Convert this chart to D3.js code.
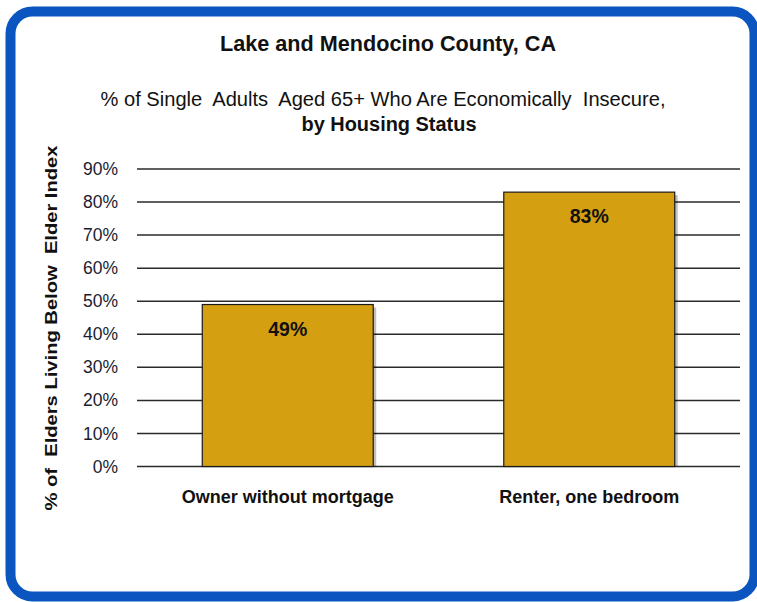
<!DOCTYPE html>
<html>
<head>
  <meta charset="utf-8">
  <title>Lake and Mendocino County, CA</title>
  <script src="https://d3js.org/d3.v7.min.js"></script>
  <style>
    body { margin: 0; background: #fff; }
    svg text { font-family: "Liberation Sans Narrow", "Arial Narrow", "Liberation Sans", Arial, sans-serif; }
  </style>
</head>
<body>
<script>
// data
var categories = ["Owner without mortgage", "Renter, one bedroom"];
var values = [49, 83];
var valueLabels = ["49%", "83%"];
var yTicks = [0, 10, 20, 30, 40, 50, 60, 70, 80, 90];

var width = 757, height = 602;
// plot area (note: "top" is reserved on window, so use other names)
var plotLeft = 137, plotRight = 740, plotTop = 169, plotBottom = 466.5;
var fontStack = "\"Liberation Sans Narrow\", \"Arial Narrow\", \"Liberation Sans\", Arial, sans-serif";

var svg = d3.select("body").append("svg").attr("width", width).attr("height", height);

// blue rounded frame
svg.append("rect")
  .attr("x", 10.5).attr("y", 11.5)
  .attr("width", 744).attr("height", 585)
  .attr("rx", 22).attr("ry", 22)
  .attr("fill", "#fff")
  .attr("stroke", "#0a55c0")
  .attr("stroke-width", 10);

// titles
svg.append("text").attr("x", 388).attr("y", 51)
  .attr("text-anchor", "middle").attr("font-size", 21.5).attr("font-weight", "bold")
  .attr("textLength", 336).attr("lengthAdjust", "spacingAndGlyphs")
  .attr("fill", "#111").text("Lake and Mendocino County, CA");
svg.append("text").attr("x", 383).attr("y", 106)
  .attr("text-anchor", "middle").attr("font-size", 19.5).attr("fill", "#111")
  .attr("textLength", 565).attr("lengthAdjust", "spacingAndGlyphs")
  .attr("xml:space", "preserve")
  .text("% of Single  Adults  Aged 65+ Who Are Economically  Insecure,");
svg.append("text").attr("x", 389).attr("y", 131)
  .attr("text-anchor", "middle").attr("font-size", 19.5).attr("font-weight", "bold")
  .attr("textLength", 175).attr("lengthAdjust", "spacingAndGlyphs")
  .attr("fill", "#111").text("by Housing Status");

// scales
var x = d3.scaleBand()
  .domain(categories)
  .range([plotLeft, plotRight])
  .paddingInner(0.433)
  .paddingOuter(0.2165);

var y = d3.scaleLinear()
  .domain([0, 90])
  .range([plotBottom, plotTop]);

// gridlines
svg.append("g")
  .selectAll("line")
  .data(yTicks)
  .enter()
  .append("line")
  .attr("x1", plotLeft).attr("x2", plotRight)
  .attr("y1", function(d) { return y(d); })
  .attr("y2", function(d) { return y(d); })
  .attr("stroke", "#2a2a2a")
  .attr("stroke-width", 1.5);

// y axis tick labels
var yAxis = svg.append("g")
  .attr("transform", "translate(" + (plotLeft - 16) + ",0)")
  .call(d3.axisLeft(y).tickValues(yTicks).tickSize(0).tickFormat(function(d) { return d + "%"; }));
yAxis.select(".domain").remove();
yAxis.selectAll("text")
  .attr("font-size", 17.5)
  .attr("fill", "#1c1c30")
  .style("font-family", fontStack);

// bar shadows
svg.append("g")
  .selectAll("rect")
  .data(values)
  .enter()
  .append("rect")
  .attr("x", function(d, i) { return x(categories[i]) + 3; })
  .attr("y", function(d) { return y(d) + 3; })
  .attr("width", x.bandwidth())
  .attr("height", function(d) { return plotBottom - y(d) - 3; })
  .attr("fill", "#000")
  .attr("opacity", 0.25);

// bars
svg.append("g")
  .selectAll("rect")
  .data(values)
  .enter()
  .append("rect")
  .attr("x", function(d, i) { return x(categories[i]); })
  .attr("y", function(d) { return y(d); })
  .attr("width", x.bandwidth())
  .attr("height", function(d) { return plotBottom - y(d); })
  .attr("fill", "#d4a012")
  .attr("stroke", "#1a1a1a")
  .attr("stroke-width", 1.2);

// value labels
svg.append("g")
  .selectAll("text")
  .data(values)
  .enter()
  .append("text")
  .attr("x", function(d, i) { return x(categories[i]) + x.bandwidth() / 2; })
  .attr("y", function(d) { return y(d) + 31; })
  .attr("text-anchor", "middle")
  .attr("font-size", 20)
  .attr("font-weight", "bold")
  .attr("textLength", 39).attr("lengthAdjust", "spacingAndGlyphs")
  .attr("fill", "#111")
  .text(function(d, i) { return valueLabels[i]; });

// category labels
var xAxis = svg.append("g")
  .attr("transform", "translate(0," + plotBottom + ")")
  .call(d3.axisBottom(x).tickSize(0).tickPadding(24));
xAxis.select(".domain").remove();
xAxis.selectAll("text")
  .attr("font-size", 18)
  .attr("font-weight", "bold")
  .attr("fill", "#111")
  .style("font-family", fontStack);

// y axis title
svg.append("text")
  .attr("transform", "translate(57,328) rotate(-90)")
  .attr("text-anchor", "middle")
  .attr("font-size", 17)
  .attr("font-weight", "bold")
  .attr("fill", "#111")
  .attr("textLength", 365).attr("lengthAdjust", "spacingAndGlyphs")
  .attr("xml:space", "preserve")
  .style("white-space", "pre")
  .text("% of  Elders Living Below  Elder Index");
</script>
</body>
</html>
